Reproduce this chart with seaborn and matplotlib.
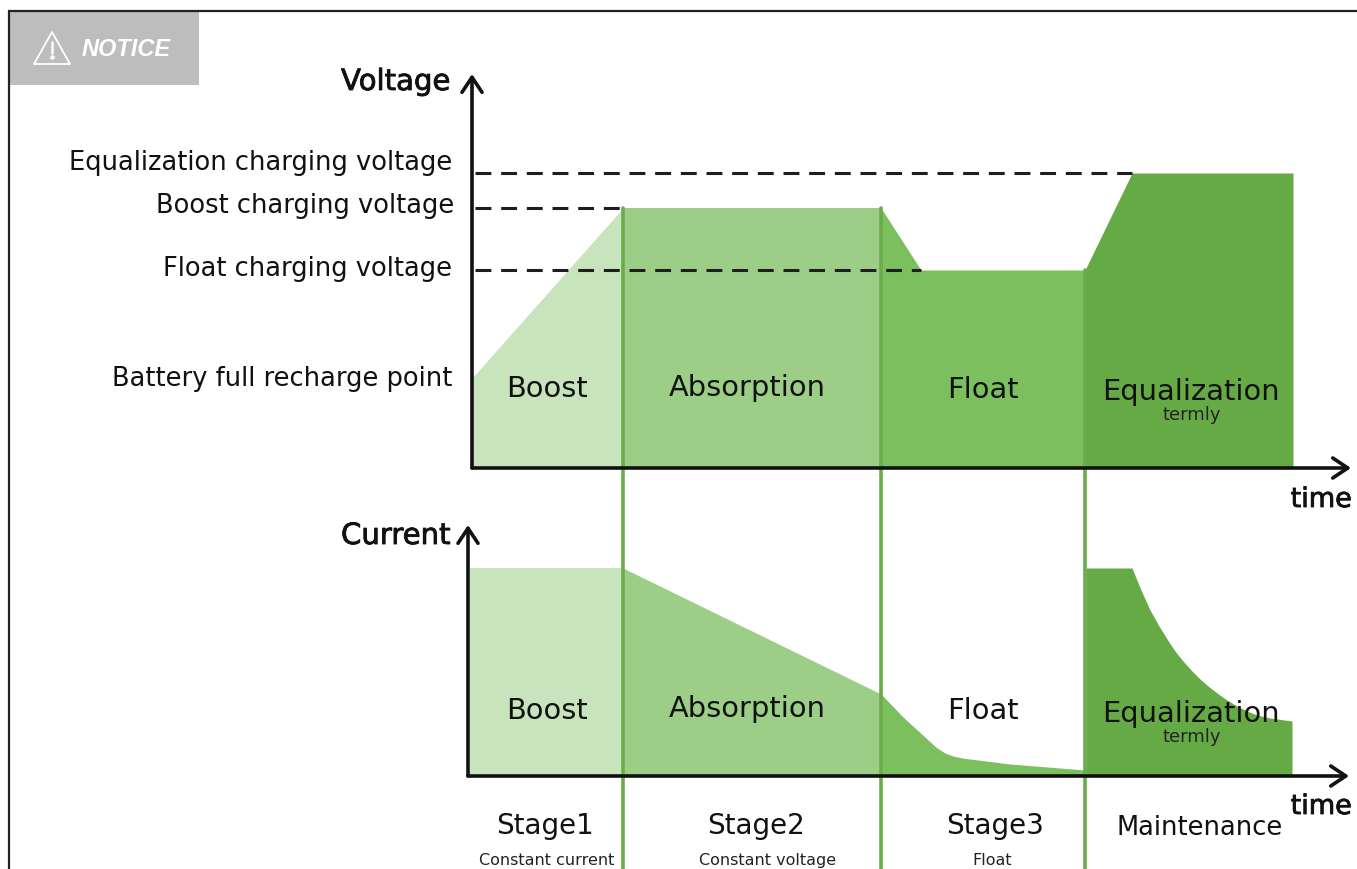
import matplotlib
matplotlib.use("Agg")
import matplotlib.pyplot as plt
import matplotlib.patheffects as pe
import seaborn as sns
import pandas as pd
from matplotlib.patches import Rectangle, Polygon

sns.set_theme(style="white")
FONT = ["DejaVu Sans"]
plt.rcParams["font.family"] = FONT

# time in chart units, level in chart units
stage_names = ["Boost", "Absorption", "Float", "Equalization"]
stage_colors = ["#C8E4BC", "#9DCE88", "#7CBF5F", "#66AA45"]
stage_edges = [623, 881, 1085]

v_boost_t = [472, 623]
v_boost_y = [90, 260]
v_abs_t = [623, 881]
v_abs_y = [260, 260]
v_float_t = [881, 921, 1085]
v_float_y = [260, 198, 198]
v_eq_t = [1085, 1132, 1293]
v_eq_y = [198, 295, 295]

c_boost_t = [470, 623]
c_boost_y = [208, 208]
c_abs_t = [623, 881]
c_abs_y = [208, 82]
c_float_t = [881, 903, 927, 937, 945, 953, 962, 1010, 1085]
c_float_y = [82, 59, 37, 28, 23, 20, 18, 12, 6]
c_eq_t = [1086, 1132, 1141, 1150, 1159, 1167, 1175, 1183, 1192, 1200, 1208, 1217, 1227, 1237, 1247, 1257, 1270, 1292]
c_eq_y = [208, 208, 186, 166, 150, 137, 125, 115, 105, 97, 90, 83, 76, 70, 65, 61, 58, 55]

v_levels = [295, 260, 198]
v_level_ends = [1132, 623, 921]
v_labels = ["Equalization charging voltage", "Boost charging voltage", "Float charging voltage"]

W, H = 1357, 870
fig = plt.figure(figsize=(W / 100, H / 100), dpi=100, facecolor="white")


def make_axes(left, right, bottom, top):
    ax = fig.add_axes([left / W, 1 - (bottom + 1) / H, (right - left) / W, (bottom - top) / H])
    ax.set_xlim(left, right)
    ax.set_ylim(0, bottom - top)
    ax.axis("off")
    ax.patch.set_alpha(0)
    return ax


ax_v = make_axes(472, 1350, 468, 72)
ax_c = make_axes(470, 1350, 776, 525)

for ax, series in [
    (ax_v, [(v_boost_t, v_boost_y), (v_abs_t, v_abs_y), (v_float_t, v_float_y), (v_eq_t, v_eq_y)]),
    (ax_c, [(c_boost_t, c_boost_y), (c_abs_t, c_abs_y), (c_float_t, c_float_y), (c_eq_t, c_eq_y)]),
]:
    for name, color, (t, y) in zip(stage_names, stage_colors, series):
        df = pd.DataFrame({"t": t, "y": y})
        sns.lineplot(data=df, x="t", y="y", ax=ax, color=color, linewidth=0, legend=False)
        ax.fill_between(t, 0, y, color=color, linewidth=0)
    ax.axis("off")

# overlay in figure pixels
ov = fig.add_axes([0, 0, 1, 1], zorder=5)
ov.set_xlim(0, W)
ov.set_ylim(H - 1, -1)
ov.axis("off")
ov.patch.set_alpha(0)

ov.plot([9, 9, W], [H, 11, 11], color="#222222", lw=1.6, solid_joinstyle="miter")
ov.add_patch(Rectangle((10, 12), 189, 73, facecolor="#BDBDBD", edgecolor="none"))
ov.add_patch(Polygon([(52, 32), (70, 64), (34, 64)], closed=True, fill=False, edgecolor="white", lw=1.3, joinstyle="round"))
ov.plot([52, 52], [42, 53], color="white", lw=1.8)
ov.plot([52], [57], marker="o", ms=2.2, color="white")
ov.text(82, 48, "NOTICE", color="white", fontsize=17, fontstyle="italic", fontweight="bold",
        family=["Liberation Sans"], va="center", ha="left")

for x in stage_edges:
    ov.plot([x, x], [208 if x != 1085 else 270, H], color="#6AAC4C", lw=2.6, zorder=1.5)

for level, end, label, ty in zip(v_levels, v_level_ends, v_labels, [162, 205, 268]):
    y = 468 - level
    ov.plot([475, end], [y, y], color="#1E1E1E", lw=2.2, dashes=(5.2, 3.2), zorder=3)
    ov.text(452 if label[0] != "B" else 454, ty, label, ha="right", va="center", fontsize=18.5, color="#111111")
ov.text(452, 378, "Battery full recharge point", ha="right", va="center", fontsize=18.5, color="#111111")

arrow = dict(arrowstyle="->,head_length=0.6,head_width=0.4", color="#111111", lw=2.6,
             shrinkA=0, shrinkB=0, mutation_scale=18)
for start, end in [((472, 468), (472, 74)), ((472, 468), (1351, 468)), ((468, 776), (468, 525)), ((468, 776), (1349, 776))]:
    ov.annotate("", xy=end, xytext=start, arrowprops=arrow)

heavy = [pe.withStroke(linewidth=0.6, foreground="#111111")]
ov.text(341, 82, "Voltage", fontsize=21, va="center", ha="left", color="#111111", path_effects=heavy)
ov.text(341, 536, "Current", fontsize=21, va="center", ha="left", color="#111111", path_effects=heavy)
ov.text(1352, 500, "time", fontsize=19.5, va="center", ha="right", color="#111111", path_effects=heavy)
ov.text(1352, 807, "time", fontsize=19.5, va="center", ha="right", color="#111111", path_effects=heavy)

for x, y, s in [
    (547, 388, "Boost"), (747, 387, "Absorption"), (983, 389, "Float"), (1191, 391, "Equalization"),
    (547, 710, "Boost"), (747, 708, "Absorption"), (983, 710, "Float"), (1191, 713, "Equalization"),
]:
    ov.text(x, y, s, ha="center", va="center", fontsize=20.8, color="#111111")
ov.text(1192, 414, "termly", ha="center", va="center", fontsize=13, color="#222222")
ov.text(1192, 736, "termly", ha="center", va="center", fontsize=13, color="#222222")

for x, y, s in [(545, 825, "Stage1"), (756, 825, "Stage2"), (995, 825, "Stage3"), (1200, 827, "Maintenance")]:
    ov.text(x, y, s, ha="center", va="center", fontsize=20 if s != "Maintenance" else 18.5, color="#111111")
for x, s in [(547, "Constant current"), (768, "Constant voltage"), (992, "Float")]:
    ov.text(x, 860, s, ha="center", va="center", fontsize=11.5, color="#222222")

fig.savefig("out.png", dpi=100)
